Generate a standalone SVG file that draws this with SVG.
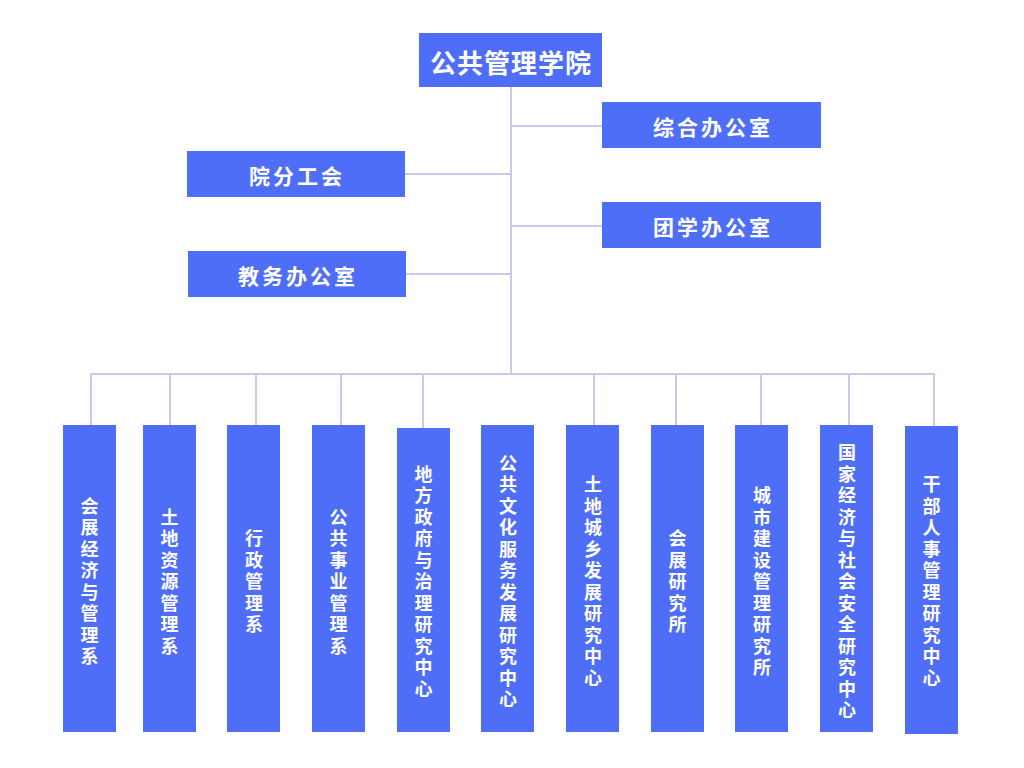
<svg xmlns="http://www.w3.org/2000/svg" width="1024" height="768" viewBox="0 0 1024 768">
<style>
.box{fill:#4F6EF7}
.t{fill:#FFFFFF;font-family:"Noto Sans CJK SC","Noto Sans",sans-serif;font-weight:bold;text-anchor:middle;dominant-baseline:central}
.t1{font-size:26px;letter-spacing:1px}
.t2{font-size:21px;letter-spacing:3px}
.tv{font-size:18px}
.ln{stroke:#C9C9EE;stroke-width:2;fill:none}
</style>
<rect width="1024" height="768" fill="#FFFFFF"/>
<g id="connectors">
<line class="ln" x1="511" y1="87" x2="511" y2="374"/>
<line class="ln" x1="511" y1="126" x2="602" y2="126"/>
<line class="ln" x1="405" y1="174" x2="511" y2="174"/>
<line class="ln" x1="511" y1="226" x2="602" y2="226"/>
<line class="ln" x1="406" y1="274" x2="511" y2="274"/>
<line class="ln" x1="90" y1="374" x2="935" y2="374"/>
<line class="ln" x1="91" y1="373" x2="91" y2="425"/>
<line class="ln" x1="170" y1="373" x2="170" y2="425"/>
<line class="ln" x1="256" y1="373" x2="256" y2="425"/>
<line class="ln" x1="341" y1="373" x2="341" y2="425"/>
<line class="ln" x1="423" y1="373" x2="423" y2="428"/>
<line class="ln" x1="594" y1="373" x2="594" y2="425"/>
<line class="ln" x1="676" y1="373" x2="676" y2="425"/>
<line class="ln" x1="761" y1="373" x2="761" y2="425"/>
<line class="ln" x1="849" y1="373" x2="849" y2="425"/>
<line class="ln" x1="934" y1="373" x2="934" y2="426"/>
</g>
<g id="n-college"><rect class="box" x="419" y="33" width="183" height="54"/><text class="t t1" x="511" y="61">公共管理学院</text></g>
<g id="n-zonghe"><rect class="box" x="602" y="102" width="219" height="46"/><text class="t t2" x="713" y="126">综合办公室</text></g>
<g id="n-gonghui"><rect class="box" x="187" y="151" width="218" height="46"/><text class="t t2" x="297" y="175">院分工会</text></g>
<g id="n-tuanxue"><rect class="box" x="602" y="202" width="219" height="46"/><text class="t t2" x="713" y="226">团学办公室</text></g>
<g id="n-jiaowu"><rect class="box" x="188" y="251" width="218" height="46"/><text class="t t2" x="298" y="275">教务办公室</text></g>

<g id="n-b1"><rect class="box" x="63" y="425" width="53" height="307"/><text class="t tv"><tspan x="89.5" y="504.75">会</tspan><tspan x="89.5" dy="21.5">展</tspan><tspan x="89.5" dy="21.5">经</tspan><tspan x="89.5" dy="21.5">济</tspan><tspan x="89.5" dy="21.5">与</tspan><tspan x="89.5" dy="21.5">管</tspan><tspan x="89.5" dy="21.5">理</tspan><tspan x="89.5" dy="21.5">系</tspan></text></g>
<g id="n-b2"><rect class="box" x="143" y="425" width="53" height="307"/><text class="t tv"><tspan x="169.5" y="515.5">土</tspan><tspan x="169.5" dy="21.5">地</tspan><tspan x="169.5" dy="21.5">资</tspan><tspan x="169.5" dy="21.5">源</tspan><tspan x="169.5" dy="21.5">管</tspan><tspan x="169.5" dy="21.5">理</tspan><tspan x="169.5" dy="21.5">系</tspan></text></g>
<g id="n-b3"><rect class="box" x="227" y="425" width="53" height="307"/><text class="t tv"><tspan x="254" y="537">行</tspan><tspan x="254" dy="21.5">政</tspan><tspan x="254" dy="21.5">管</tspan><tspan x="254" dy="21.5">理</tspan><tspan x="254" dy="21.5">系</tspan></text></g>
<g id="n-b4"><rect class="box" x="312" y="425" width="53" height="307"/><text class="t tv"><tspan x="338.5" y="515.5">公</tspan><tspan x="338.5" dy="21.5">共</tspan><tspan x="338.5" dy="21.5">事</tspan><tspan x="338.5" dy="21.5">业</tspan><tspan x="338.5" dy="21.5">管</tspan><tspan x="338.5" dy="21.5">理</tspan><tspan x="338.5" dy="21.5">系</tspan></text></g>
<g id="n-b5"><rect class="box" x="397" y="428" width="53" height="304"/><text class="t tv"><tspan x="423.5" y="472.5">地</tspan><tspan x="423.5" dy="21.5">方</tspan><tspan x="423.5" dy="21.5">政</tspan><tspan x="423.5" dy="21.5">府</tspan><tspan x="423.5" dy="21.5">与</tspan><tspan x="423.5" dy="21.5">治</tspan><tspan x="423.5" dy="21.5">理</tspan><tspan x="423.5" dy="21.5">研</tspan><tspan x="423.5" dy="21.5">究</tspan><tspan x="423.5" dy="21.5">中</tspan><tspan x="423.5" dy="21.5">心</tspan></text></g>
<g id="n-b6"><rect class="box" x="481" y="425" width="53" height="307"/><text class="t tv"><tspan x="508" y="461.75">公</tspan><tspan x="508" dy="21.5">共</tspan><tspan x="508" dy="21.5">文</tspan><tspan x="508" dy="21.5">化</tspan><tspan x="508" dy="21.5">服</tspan><tspan x="508" dy="21.5">务</tspan><tspan x="508" dy="21.5">发</tspan><tspan x="508" dy="21.5">展</tspan><tspan x="508" dy="21.5">研</tspan><tspan x="508" dy="21.5">究</tspan><tspan x="508" dy="21.5">中</tspan><tspan x="508" dy="21.5">心</tspan></text></g>
<g id="n-b7"><rect class="box" x="566" y="425" width="53" height="307"/><text class="t tv"><tspan x="593" y="483.25">土</tspan><tspan x="593" dy="21.5">地</tspan><tspan x="593" dy="21.5">城</tspan><tspan x="593" dy="21.5">乡</tspan><tspan x="593" dy="21.5">发</tspan><tspan x="593" dy="21.5">展</tspan><tspan x="593" dy="21.5">研</tspan><tspan x="593" dy="21.5">究</tspan><tspan x="593" dy="21.5">中</tspan><tspan x="593" dy="21.5">心</tspan></text></g>
<g id="n-b8"><rect class="box" x="651" y="425" width="53" height="307"/><text class="t tv"><tspan x="677.5" y="537">会</tspan><tspan x="677.5" dy="21.5">展</tspan><tspan x="677.5" dy="21.5">研</tspan><tspan x="677.5" dy="21.5">究</tspan><tspan x="677.5" dy="21.5">所</tspan></text></g>
<g id="n-b9"><rect class="box" x="735" y="425" width="53" height="307"/><text class="t tv"><tspan x="762" y="494">城</tspan><tspan x="762" dy="21.5">市</tspan><tspan x="762" dy="21.5">建</tspan><tspan x="762" dy="21.5">设</tspan><tspan x="762" dy="21.5">管</tspan><tspan x="762" dy="21.5">理</tspan><tspan x="762" dy="21.5">研</tspan><tspan x="762" dy="21.5">究</tspan><tspan x="762" dy="21.5">所</tspan></text></g>
<g id="n-b10"><rect class="box" x="820" y="425" width="53" height="307"/><text class="t tv"><tspan x="847" y="451">国</tspan><tspan x="847" dy="21.5">家</tspan><tspan x="847" dy="21.5">经</tspan><tspan x="847" dy="21.5">济</tspan><tspan x="847" dy="21.5">与</tspan><tspan x="847" dy="21.5">社</tspan><tspan x="847" dy="21.5">会</tspan><tspan x="847" dy="21.5">安</tspan><tspan x="847" dy="21.5">全</tspan><tspan x="847" dy="21.5">研</tspan><tspan x="847" dy="21.5">究</tspan><tspan x="847" dy="21.5">中</tspan><tspan x="847" dy="21.5">心</tspan></text></g>
<g id="n-b11"><rect class="box" x="905" y="426" width="53" height="308"/><text class="t tv"><tspan x="931.5" y="483.25">干</tspan><tspan x="931.5" dy="21.5">部</tspan><tspan x="931.5" dy="21.5">人</tspan><tspan x="931.5" dy="21.5">事</tspan><tspan x="931.5" dy="21.5">管</tspan><tspan x="931.5" dy="21.5">理</tspan><tspan x="931.5" dy="21.5">研</tspan><tspan x="931.5" dy="21.5">究</tspan><tspan x="931.5" dy="21.5">中</tspan><tspan x="931.5" dy="21.5">心</tspan></text></g>
</svg>
